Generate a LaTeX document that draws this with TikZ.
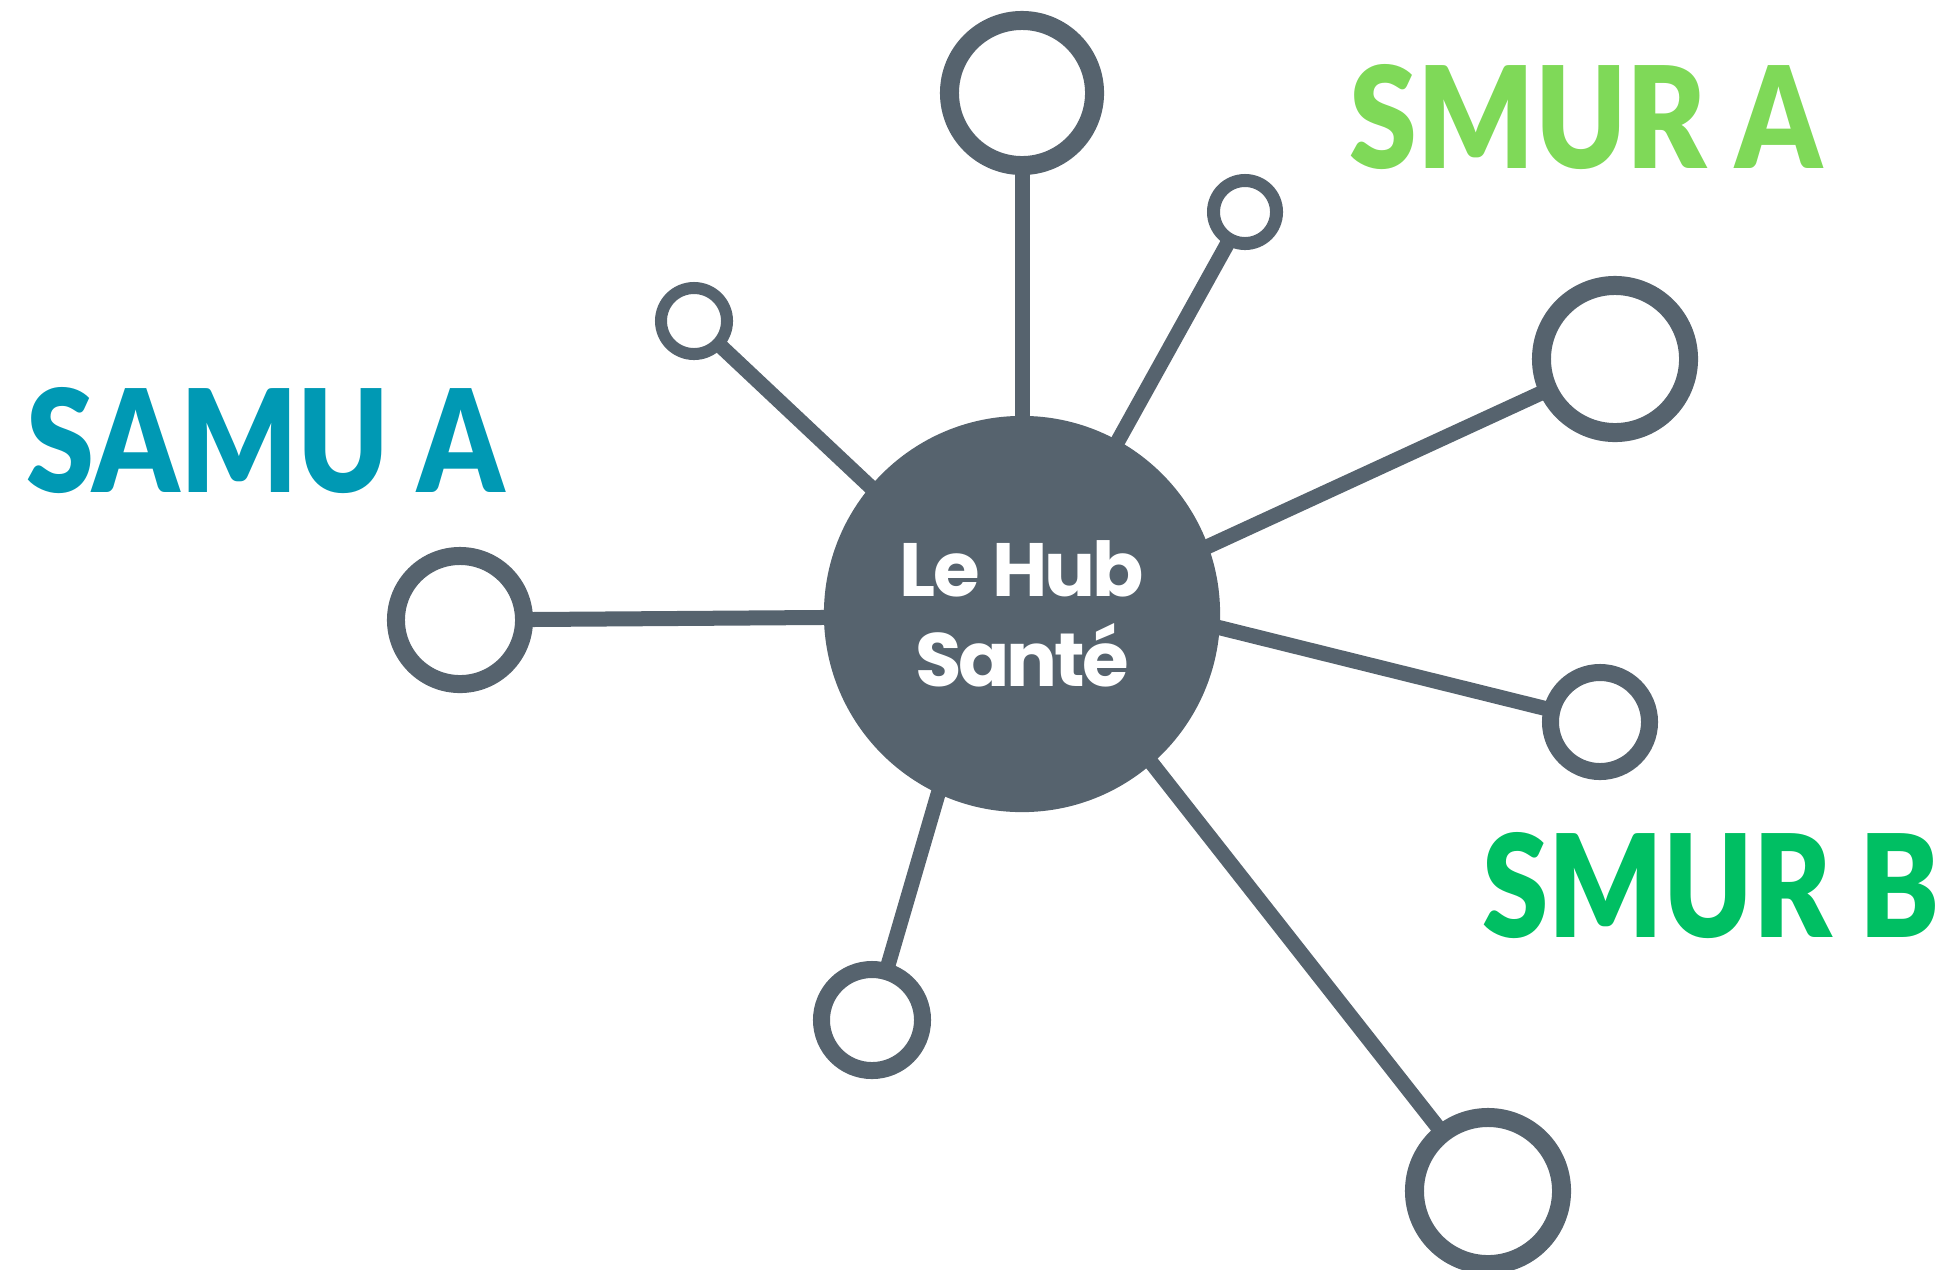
\documentclass[tikz,border=0pt]{standalone}
\usepackage{fontspec}
\usepackage{graphicx}
\usetikzlibrary{positioning}
\newfontfamily\hubfont{Poppins}[LetterSpace=-4]
\newfontfamily\tagfont{Lato}[BoldFont={Lato Black}]
\definecolor{hubgray}{RGB}{86,99,110}
\definecolor{samublue}{RGB}{0,153,180}
\definecolor{smurlight}{RGB}{127,217,88}
\definecolor{smurgreen}{RGB}{0,191,99}

\begin{document}
\begin{tikzpicture}
      [
        x = 0.01cm, y = -0.01cm,
        ring/.style = {circle, draw=hubgray, fill=white, inner sep=0pt},
        spoke/.style = {draw=hubgray, line width=0.15cm, shorten <=-2pt, shorten >=-2pt},
        tag/.style = {inner sep=0pt, anchor=base}
      ]

      \useasboundingbox (0,0) rectangle (1952,1269);

      \node[circle, fill=hubgray, inner sep=0pt, minimum size=3.96cm, text=white, align=center,
            font=\hubfont\bfseries\fontsize{21.5}{25.5}\selectfont] (hub) at (1022,614) {Le Hub\\Santé};

      \node[ring, line width=0.19cm, minimum size=1.45cm] (top) at (1022,93) {};
      \node[ring, line width=0.13cm, minimum size=0.63cm] (topright) at (1245,212) {};
      \node[ring, line width=0.19cm, minimum size=1.47cm] (right) at (1615,359) {};
      \node[ring, line width=0.17cm, minimum size=0.99cm] (rightlow) at (1600,722) {};
      \node[ring, line width=0.19cm, minimum size=1.47cm] (bottomright) at (1488,1191) {};
      \node[ring, line width=0.17cm, minimum size=1.01cm] (bottom) at (872,1020) {};
      \node[ring, line width=0.18cm, minimum size=1.28cm] (left) at (460,620) {};
      \node[ring, line width=0.12cm, minimum size=0.66cm] (topleft) at (694,321) {};

      \draw[spoke] (hub) -- (top);
      \draw[spoke] (hub) -- (topright);
      \draw[spoke] (hub.20) -- (right);
      \draw[spoke] (hub.-4) -- (rightlow);
      \draw[spoke] (hub.-49) -- (bottomright);
      \draw[spoke] (hub.-115) -- (bottom);
      \draw[spoke] (hub.181) -- (left);
      \draw[spoke] (hub.140) -- (topleft);

      \node[tag] (samua) at (266,492) {\resizebox{4.78cm}{1.05cm}{\tagfont\bfseries\color{samublue}SAMU A}};
      \node[tag] (smura) at (1586,168) {\resizebox{4.72cm}{1.04cm}{\tagfont\bfseries\color{smurlight}SMUR A}};
      \node[tag] (smurb) at (1711,937) {\resizebox{4.57cm}{1.05cm}{\tagfont\bfseries\color{smurgreen}SMUR B}};

    \end{tikzpicture}
\end{document}
